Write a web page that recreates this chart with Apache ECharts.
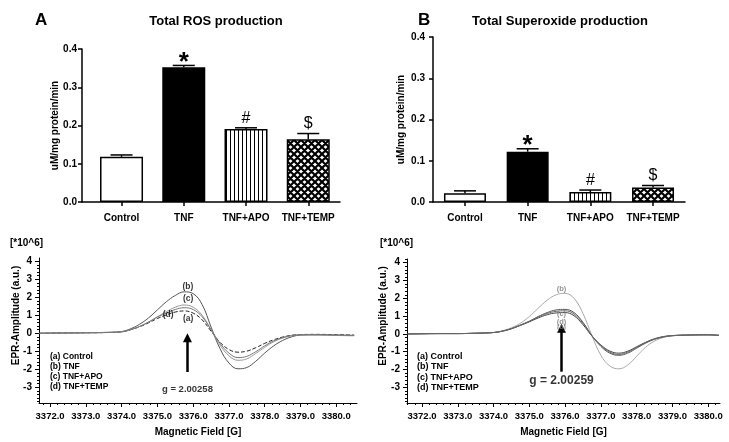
<!DOCTYPE html>
<html><head><meta charset="utf-8">
<script src="https://cdn.jsdelivr.net/npm/echarts@6/dist/echarts.min.js"></script>
<style>html,body{margin:0;padding:0;background:#fff}#c{width:729px;height:442px}</style>
</head><body><div id="c"></div>
<script>
// ---------- data ----------
const categories = ['Control', 'TNF', 'TNF+APO', 'TNF+TEMP'];
const rosMean = [0.118, 0.352, 0.191, 0.164];
const rosErr  = [0.005, 0.005, 0.003, 0.015];
const supMean = [0.021, 0.122, 0.024, 0.035];
const supErr  = [0.006, 0.007, 0.005, 0.005];
const sigMarks = ['', '*', '#', '$'];
const barTicks = [0, 0.1, 0.2, 0.3, 0.4];
const fieldTicks = [3372, 3373, 3374, 3375, 3376, 3377, 3378, 3379, 3380];
const ampTicks = [-3, -2, -1, 0, 1, 2, 3, 4];
const curveNames = ['(a) Control', '(b) TNF', '(c) TNF+APO', '(d) TNF+TEMP'];

// panel C (left EPR spectra)
const fieldC = [3371.7,3372.0,3372.5,3373.0,3373.5,3374.0,3374.25,3374.5,3374.75,3375.0,3375.25,3375.5,3375.75,3376.0,3376.25,3376.5,3376.75,3377.0,3377.25,3377.5,3377.75,3378.0,3378.25,3378.5,3378.75,3379.0,3379.5,3380.0,3380.5];
const cControl = [0,0.01,0.02,0.03,0.04,0.08,0.2,0.36,0.58,0.82,1.02,1.18,1.24,1.12,0.75,0.12,-0.5,-0.9,-1.05,-0.99,-0.8,-0.56,-0.36,-0.21,-0.11,-0.07,-0.06,-0.08,-0.1];
const cTNF     = [0,0.01,0.02,0.03,0.05,0.1,0.25,0.5,0.85,1.3,1.75,2.1,2.3,2.2,1.6,0.35,-0.85,-1.65,-1.97,-1.9,-1.55,-1.1,-0.7,-0.4,-0.2,-0.1,-0.08,-0.1,-0.12];
const cAPO     = [0,0.01,0.02,0.03,0.04,0.08,0.2,0.38,0.62,0.92,1.2,1.45,1.57,1.45,1.0,0.2,-0.65,-1.25,-1.5,-1.42,-1.12,-0.78,-0.47,-0.27,-0.14,-0.09,-0.1,-0.12,-0.14];
const cTEMP    = [0,0.01,0.02,0.03,0.04,0.08,0.2,0.38,0.62,0.9,1.12,1.32,1.42,1.32,0.92,0.2,-0.55,-1.1,-1.35,-1.28,-1.02,-0.7,-0.42,-0.24,-0.13,-0.09,-0.08,-0.1,-0.12];

// panel D (right EPR spectra)
const fieldD = [3371.6,3372.0,3372.5,3373.0,3373.5,3374.0,3374.25,3374.5,3374.75,3375.0,3375.25,3375.5,3375.75,3376.0,3376.25,3376.5,3376.75,3377.0,3377.25,3377.5,3377.75,3378.0,3378.25,3378.5,3378.75,3379.0,3379.5,3380.0,3380.3];
const dControl = [0,0.01,0.02,0.02,0.04,0.08,0.16,0.29,0.48,0.68,0.9,1.08,1.18,1.2,1.02,0.52,-0.12,-0.62,-0.96,-1.08,-0.97,-0.72,-0.47,-0.27,-0.15,-0.09,-0.06,-0.05,-0.08];
const dTNF     = [0,0.01,0.02,0.02,0.04,0.08,0.18,0.35,0.6,0.98,1.45,1.9,2.2,2.28,2.0,1.15,-0.1,-1.2,-1.8,-1.96,-1.75,-1.25,-0.75,-0.4,-0.2,-0.1,-0.05,-0.05,-0.08];
const dAPO     = [0,0.01,0.02,0.02,0.04,0.08,0.16,0.3,0.5,0.72,0.98,1.2,1.35,1.38,1.2,0.65,-0.1,-0.7,-1.08,-1.2,-1.08,-0.8,-0.52,-0.3,-0.17,-0.1,-0.06,-0.05,-0.08];
const dTEMP    = [0,0.01,0.02,0.02,0.04,0.08,0.16,0.3,0.49,0.7,0.95,1.15,1.27,1.3,1.12,0.6,-0.1,-0.65,-1.02,-1.15,-1.02,-0.76,-0.5,-0.29,-0.16,-0.1,-0.06,-0.05,-0.08];

// annotations (data space)
const curveLabelsC = [['(b)',3375.85,2.58],['(c)',3375.86,1.94],['(d)',3375.3,1.06],['(a)',3375.86,0.83]];
const curveLabelsD = [['(b)',3375.9,2.55],['(c)',3375.9,1.12],['(d)',3375.9,0.69],['(a)',3375.9,0.38]];
const gValueC = ['g = 2.00258', 3375.84, -3.09];
const gValueD = ['g = 2.00259', 3375.9, -2.62];
const arrowC = [3375.84, -2.15, -0.25];
const arrowD = [3375.9, -2.12, 0.32];

// ---------- helpers ----------
const FONT = "'Liberation Sans', Arial, sans-serif";
function stripePattern() {
  const c = document.createElement('canvas'); c.width = 4; c.height = 4;
  const g = c.getContext('2d');
  g.fillStyle = '#fff'; g.fillRect(0, 0, 4, 4);
  g.fillStyle = '#000'; g.fillRect(2, 0, 1, 4);
  return c;
}
function hatchPattern() {
  const n = 7;
  const c = document.createElement('canvas'); c.width = n; c.height = n;
  const g = c.getContext('2d');
  g.fillStyle = '#fff'; g.fillRect(0, 0, n, n);
  g.strokeStyle = '#000'; g.lineWidth = 2.2;
  g.beginPath();
  for (const k of [-n, 0, n]) {
    g.moveTo(k, 0); g.lineTo(k + n, n);
    g.moveTo(k + n, 0); g.lineTo(k, n);
  }
  g.stroke();
  return c;
}
const fills = ['#fff', '#000', {image: stripePattern(), repetition: 'repeat'}, {image: hatchPattern(), repetition: 'repeat'}];

function errRender(params, api) {
  const i = api.value(0);
  const base = api.coord([i, api.value(1)]);
  const top = api.coord([i, api.value(1) + api.value(2)]);
  const half = 11;
  const children = [
    {type: 'line', shape: {x1: base[0], y1: base[1], x2: top[0], y2: top[1]}, style: {stroke: '#000', lineWidth: 1.5}},
    {type: 'line', shape: {x1: top[0] - half, y1: top[1], x2: top[0] + half, y2: top[1]}, style: {stroke: '#000', lineWidth: 1.5}}
  ];
  const s = sigMarks[i];
  if (s) {
    const star = s === '*';
    children.push({type: 'text', x: top[0], y: top[1] + (star ? 10 : -1.5),
      style: {text: s, font: (star ? 'bold 26px ' : '16px ') + FONT, fill: '#000', textAlign: 'center', textVerticalAlign: 'bottom'}});
  }
  return {type: 'group', children};
}

const axisTxt = {color: '#000', fontWeight: 'bold', fontFamily: FONT};

function barAxes(gi, xmin, xmax, nameGap, labelMargin) {
  return {
    x: {type: 'value', gridIndex: gi, min: xmin, max: xmax,
      axisLine: {onZero: false, lineStyle: {color: '#000', width: 1.5}},
      axisTick: {customValues: [0, 1, 2, 3], length: 4, lineStyle: {color: '#000', width: 1.5}},
      axisLabel: {customValues: [0, 1, 2, 3], formatter: v => categories[Math.round(v)], fontSize: 10, margin: 11, ...axisTxt},
      splitLine: {show: false}},
    y: {type: 'value', gridIndex: gi, min: 0, max: 0.4, interval: 0.1,
      name: 'uM/mg protein/min', nameLocation: 'middle', nameGap: nameGap, nameMoveOverlap: false,
      nameTextStyle: {fontSize: 10, ...axisTxt},
      axisLine: {show: true, onZero: false, lineStyle: {color: '#000', width: 1.5}},
      axisTick: {show: true, length: 4, lineStyle: {color: '#000', width: 1.5}},
      axisLabel: {formatter: v => v.toFixed(1), fontSize: 10, margin: labelMargin, ...axisTxt},
      splitLine: {show: false}}
  };
}

function minorList(lo, hi, step, majors) {
  const out = [];
  for (let v = lo; v <= hi + 1e-9; v += step) {
    const r = Math.round(v * 100) / 100;
    if (!majors.some(m => Math.abs(m - r) < 1e-6)) out.push(r);
  }
  return out;
}

function eprAxes(gi, xmin, xmax, ymin, ymax, nameGap) {
  const xMinor = minorList(Math.ceil(xmin * 5) / 5, xmax, 0.2, fieldTicks);
  const yMinor = minorList(Math.ceil(ymin * 5) / 5, ymax, 0.2, ampTicks);
  return {
    x: [{type: 'value', gridIndex: gi, min: xmin, max: xmax, position: 'bottom',
        name: 'Magnetic Field [G]', nameLocation: 'middle', nameGap: 24, nameMoveOverlap: false,
        nameTextStyle: {fontSize: 10, ...axisTxt},
        axisLine: {onZero: false, lineStyle: {color: '#000', width: 1}},
        axisTick: {customValues: fieldTicks, length: 4, lineStyle: {color: '#000'}},
        axisLabel: {customValues: fieldTicks, formatter: v => v.toFixed(1), fontSize: 9.5, margin: 8, ...axisTxt},
        splitLine: {show: false}},
      {type: 'value', gridIndex: gi, min: xmin, max: xmax, position: 'bottom', offset: 0,
        axisLine: {show: false, onZero: false}, axisLabel: {show: false}, splitLine: {show: false},
        axisTick: {customValues: xMinor, length: 2, lineStyle: {color: '#000'}}}],
    y: [{type: 'value', gridIndex: gi, min: ymin, max: ymax, position: 'left',
        name: 'EPR-Amplitude (a.u.)', nameLocation: 'middle', nameGap: nameGap, nameMoveOverlap: false,
        nameTextStyle: {fontSize: 10, ...axisTxt, padding: [0, 0, 0, 30]},
        axisLine: {show: true, onZero: false, lineStyle: {color: '#000', width: 1}},
        axisTick: {show: true, customValues: ampTicks, length: 4, lineStyle: {color: '#000'}},
        axisLabel: {customValues: ampTicks, fontSize: 10, margin: 7, ...axisTxt},
        splitLine: {show: false}},
      {type: 'value', gridIndex: gi, min: ymin, max: ymax, position: 'left', offset: 0,
        axisLine: {show: false, onZero: false}, axisLabel: {show: false}, splitLine: {show: false},
        axisTick: {show: true, customValues: yMinor, length: 2, lineStyle: {color: '#000'}}}]
  };
}

const aAx = barAxes(0, -0.635, 3.51, 22, 5);
const bAx = barAxes(1, -0.51, 3.51, 27, 8);
const cAx = eprAxes(2, 3371.69, 3380.58, -3.87, 4.18, 18);
const dAx = eprAxes(3, 3371.58, 3380.33, -3.88, 4.21, 19);

function zip(xs, ys) { return xs.map((x, i) => [x, ys[i]]); }

function barSeries(xi, means, errs, width) {
  return [
    {type: 'bar', xAxisIndex: xi, yAxisIndex: xi, barWidth: width,
      data: means.map((m, i) => ({value: [i, m], itemStyle: {color: fills[i], borderColor: '#000', borderWidth: 1.5}}))},
    {type: 'custom', xAxisIndex: xi, yAxisIndex: xi, renderItem: errRender, z: 5,
      data: means.map((m, i) => [i, m, errs[i]])}
  ];
}

function eprSeries(xi, field, curves, colors, dashes, labels, gval, arrow, labelColor, labelSize, gFont) {
  const out = curves.map((ys, k) => ({
    type: 'line', name: curveNames[k], xAxisIndex: xi, yAxisIndex: xi,
    data: zip(field, ys), smooth: 0.4, showSymbol: false, symbol: 'none',
    lineStyle: {color: colors[k], width: 1, type: dashes[k]}
  }));
  out.push({
    type: 'scatter', xAxisIndex: xi, yAxisIndex: xi, symbolSize: 0, z: 10,
    data: labels.map(l => ({value: [l[1], l[2]], name: l[0]})).concat([{value: [gval[1], gval[2]], name: gval[0],
      label: {fontSize: gFont[0], fontWeight: gFont[1], color: '#000'}}]),
    label: {show: true, position: 'inside', formatter: p => p.name, fontSize: labelSize, color: labelColor, fontFamily: FONT, fontWeight: 'bold'},
    markLine: {silent: true, symbol: ['none', 'triangle'], symbolSize: 9, symbolRotate: 0,
      lineStyle: {color: '#000', width: 2.5, type: 'solid'}, label: {show: false},
      data: [[{coord: [arrow[0], arrow[1]]}, {coord: [arrow[0], arrow[2]]}]]}
  });
  return out;
}

const option = {
  animation: false,
  backgroundColor: '#fff',
  textStyle: {fontFamily: FONT},
  grid: [
    {left: 82, top: 49, width: 258, height: 153},
    {left: 433, top: 37, width: 252, height: 165},
    {left: 39, top: 258, width: 318, height: 145},
    {left: 407, top: 259, width: 313, height: 144}
  ],
  xAxis: [aAx.x, bAx.x, cAx.x[0], dAx.x[0], cAx.x[1], dAx.x[1]],
  yAxis: [aAx.y, bAx.y, cAx.y[0], dAx.y[0], cAx.y[1], dAx.y[1]],
  legend: [
    {left: 45, top: 352, orient: 'vertical', icon: 'none', itemWidth: 0, itemHeight: 8, itemGap: 1.2, padding: 0,
      selectedMode: false, data: curveNames, textStyle: {fontSize: 8.5, fontWeight: 'bold', color: '#000', lineHeight: 8.5, fontFamily: FONT}},
    {left: 412, top: 352, orient: 'vertical', icon: 'none', itemWidth: 0, itemHeight: 9, itemGap: 1.3, padding: 0,
      selectedMode: false, data: curveNames, textStyle: {fontSize: 9, fontWeight: 'bold', color: '#000', lineHeight: 9, fontFamily: FONT}}
  ],
  graphic: [
    {type: 'text', left: 35, top: 12, style: {text: 'A', font: 'bold 17px ' + FONT, fill: '#000'}},
    {type: 'text', x: 216, y: 21, style: {text: 'Total ROS production', font: 'bold 13px ' + FONT, fill: '#000', textAlign: 'center', textVerticalAlign: 'middle'}},
    {type: 'text', left: 418, top: 12, style: {text: 'B', font: 'bold 17px ' + FONT, fill: '#000'}},
    {type: 'text', x: 560, y: 21, style: {text: 'Total Superoxide production', font: 'bold 13px ' + FONT, fill: '#000', textAlign: 'center', textVerticalAlign: 'middle'}},
    {type: 'text', x: 10, y: 243, style: {text: '[*10^6]', font: 'bold 10px ' + FONT, fill: '#000', textVerticalAlign: 'middle'}},
    {type: 'text', x: 380, y: 243, style: {text: '[*10^6]', font: 'bold 10px ' + FONT, fill: '#000', textVerticalAlign: 'middle'}}
  ],
  series: [
    ...barSeries(0, rosMean, rosErr, 43),
    ...barSeries(1, supMean, supErr, 42),
    ...eprSeries(2, fieldC, [cControl, cTNF, cAPO, cTEMP], ['#222', '#555', '#999', '#777'], ['dashed', 'solid', 'solid', 'solid'],
      curveLabelsC, gValueC, arrowC, '#000', 8.5, [9.5, 'bold']),
    ...eprSeries(3, fieldD, [dControl, dTNF, dAPO, dTEMP], ['#444', '#aaa', '#555', '#666'], ['solid', 'solid', 'solid', 'solid'],
      curveLabelsD, gValueD, arrowD, '#777', 7.5, [12, 'bold'])
  ]
};
const chart = echarts.init(document.getElementById('c'), null, {renderer: 'canvas'});
chart.setOption(option);
</script>
</body></html>
